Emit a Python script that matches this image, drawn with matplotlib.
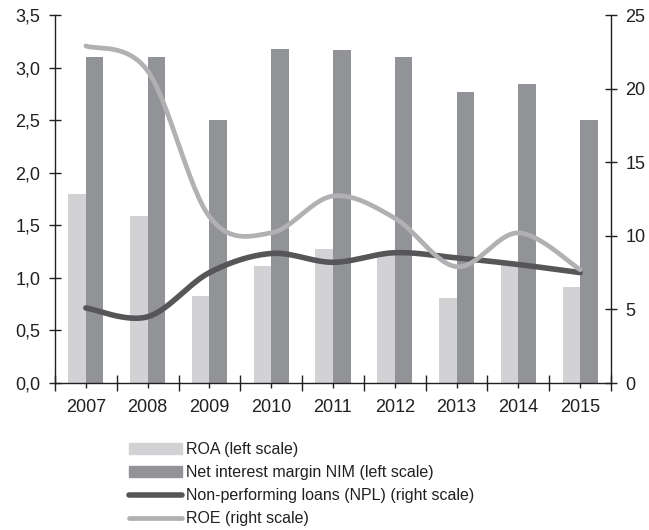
import numpy as np
import matplotlib
matplotlib.use("Agg")
import matplotlib.pyplot as plt
from matplotlib.ticker import FuncFormatter, FixedLocator
from matplotlib.patches import Patch
from matplotlib.lines import Line2D

plt.rcParams['font.family'] = ['Liberation Sans', 'DejaVu Sans']

years = ['2007', '2008', '2009', '2010', '2011', '2012', '2013', '2014', '2015']
# left scale (%)
roa = [1.80, 1.59, 0.83, 1.11, 1.27, 1.22, 0.81, 1.13, 0.91]
nim = [3.10, 3.10, 2.50, 3.18, 3.17, 3.10, 2.77, 2.84, 2.50]
# right scale (%)
npl = [5.1, 4.5, 7.5, 8.8, 8.2, 8.85, 8.5, 8.05, 7.5]
roe = [22.9, 21.2, 11.3, 10.2, 12.7, 11.2, 7.9, 10.2, 7.7]

labels = ['ROA (left scale)', 'Net interest margin NIM (left scale)',
          'Non-performing loans (NPL) (right scale)', 'ROE (right scale)']

c_roa = '#d2d2d4'
c_nim = '#929396'
c_npl = '#565658'
c_roe = '#b1b1b4'
c_txt = '#231f20'


def smooth(x, y, n=30):
    # cubic Bezier through the points, Catmull-Rom style tangents
    x = np.asarray(x, float)
    y = np.asarray(y, float)
    px = np.concatenate([[x[0]], x, [x[-1]]])
    py = np.concatenate([[y[0]], y, [y[-1]]])
    xs, ys = [], []
    t = np.linspace(0, 1, n)
    for i in range(len(x) - 1):
        p0 = np.array([px[i + 1], py[i + 1]])
        p3 = np.array([px[i + 2], py[i + 2]])
        p1 = p0 + (np.array([px[i + 2], py[i + 2]]) - np.array([px[i], py[i]])) / 6
        p2 = p3 - (np.array([px[i + 3], py[i + 3]]) - np.array([px[i + 1], py[i + 1]])) / 6
        b = ((1 - t) ** 3)[:, None] * p0 + (3 * (1 - t) ** 2 * t)[:, None] * p1 \
            + (3 * (1 - t) * t ** 2)[:, None] * p2 + (t ** 3)[:, None] * p3
        xs.append(b[:, 0])
        ys.append(b[:, 1])
    return np.concatenate(xs), np.concatenate(ys)


fig = plt.figure(figsize=(6.49, 5.30), dpi=100)
ax = fig.add_axes([55 / 649, 147 / 530, 556 / 649, 368 / 530])
ax2 = ax.twinx()

x = np.arange(len(years))
w = 0.285
ax.bar(x - w / 2, roa, w, color=c_roa, zorder=2)
ax.bar(x + w / 2, nim, w, color=c_nim, zorder=2)

sx, sy = smooth(x, npl)
ax2.plot(sx, sy, color=c_npl, lw=4.0, solid_capstyle='round')
sx, sy = smooth(x, roe)
ax2.plot(sx, sy, color=c_roe, lw=3.4, solid_capstyle='round')

ax.set_xlim(-0.5, len(years) - 0.5)
ax.set_ylim(0, 3.5)
ax2.set_ylim(0, 25)

ax.set_yticks(np.arange(0, 3.51, 0.5))
ax.yaxis.set_major_formatter(FuncFormatter(lambda v, p: f'{v:.1f}'.replace('.', ',')))
ax2.set_yticks(np.arange(0, 26, 5))

ax.xaxis.set_major_locator(FixedLocator(np.arange(-0.5, len(years), 1.0)))
ax.xaxis.set_minor_locator(FixedLocator(x))
ax.set_xticklabels([''] * 10)
ax.set_xticks(x, years, minor=True)

for a in (ax, ax2):
    a.spines['top'].set_visible(False)
    for s in a.spines.values():
        s.set_color(c_txt)
        s.set_linewidth(1.0)
ax.spines['right'].set_visible(False)
ax2.spines['left'].set_visible(False)
ax2.spines['bottom'].set_visible(False)

ax.tick_params(axis='y', direction='inout', length=9, width=1, color=c_txt,
               labelsize=13, labelcolor=c_txt, pad=6)
ax2.tick_params(axis='y', direction='inout', length=9, width=1, color=c_txt,
                labelsize=13, labelcolor=c_txt, pad=6)
ax.tick_params(axis='x', which='major', direction='inout', length=11, width=1,
               color=c_txt, pad=8)
ax.tick_params(axis='x', which='minor', direction='inout', length=7, width=1,
               color=c_txt, labelsize=13, labelcolor=c_txt, pad=8)

handles = [Patch(color=c_roa), Patch(color=c_nim),
           Line2D([], [], color=c_npl, lw=4.0, solid_capstyle='round'),
           Line2D([], [], color=c_roe, lw=3.4, solid_capstyle='round')]
fig.legend(handles, labels, loc='upper left', bbox_to_anchor=(129 / 649, 1 - 442 / 530),
           frameon=False, fontsize=11.5, handlelength=3.3, handleheight=0.62,
           handletextpad=0.25, labelspacing=0.5, borderpad=0, borderaxespad=0,
           labelcolor=c_txt)

fig.savefig('out.png', dpi=100)
